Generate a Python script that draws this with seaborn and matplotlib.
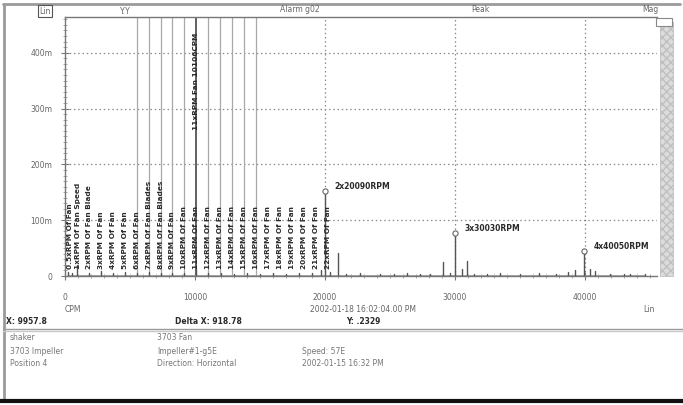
import numpy as np
import pandas as pd
import matplotlib
matplotlib.use("Agg")
import matplotlib.pyplot as plt
from matplotlib.patches import Rectangle
from matplotlib.lines import Line2D
from matplotlib.ticker import MultipleLocator, FixedLocator, FixedFormatter
import seaborn as sns

sns.set_style("white")
plt.rcParams["font.family"] = ["DejaVu Sans"]

# ---- data -------------------------------------------------------------
# spectral lines: frequency (CPM) and amplitude (milli-units)
line_cpm = [230, 560, 918.78, 1838, 2756, 3675, 4594, 5513, 6431, 7350, 8269,
            9188, 10106, 11025, 12000, 13000, 14000, 15000, 16000, 17000,
            18000, 19000, 19700, 20000, 20400, 21000, 21600, 22700, 24200,
            25300, 26300, 27300, 28100, 29077, 29600, 30000, 30540, 30923,
            31500, 32500, 33460, 35000, 36500, 37800, 38700, 39200, 39923,
            40400, 40800, 41900, 43000, 43500, 44600]
line_amp = [8, 6, 20, 6, 9, 5, 7, 6, 8, 5, 6,
            5, 12, 6, 5, 4, 5, 4, 5, 4,
            5, 6, 10, 152, 8, 41, 4, 5, 4,
            3, 6, 4, 3, 25, 5, 77, 13, 27,
            4, 3, 5, 4, 5, 3, 8, 10, 45,
            12, 9, 4, 3, 3, 3]

# labelled peaks
peak_cpm = [20000, 30000, 39923]
peak_amp = [152, 77, 45]
peak_text = ["2x20090RPM", "3x30030RPM", "4x40050RPM"]

# harmonic cursor set
delta_x = 918.78
cursor_orders = [6, 7, 8, 9, 10, 11, 12, 13, 14, 15, 16]
active_order = 11
active_text = "11xRPM Fan 10106CPM"

# fault frequency markers
fault_cpm = [380, 1000, 1838, 2756, 3675, 4594, 5513, 6431, 7350,
             8269, 9188, 10106, 11025, 11944, 12863, 13781, 14700, 15619,
             16538, 17457, 18376, 19295, 20213]
fault_text = ["0.5xRPM Of Fan", "1xRPM Of Fan Speed",
              "2xRPM Of Fan Blade", "3xRPM Of Fan", "4xRPM Of Fan",
              "5xRPM Of Fan", "6xRPM Of Fan", "7xRPM Of Fan Blades",
              "8xRPM Of Fan Blades", "9xRPM Of Fan", "10xRPM Of Fan",
              "11xRPM Of Fan", "12xRPM Of Fan", "13xRPM Of Fan",
              "14xRPM Of Fan", "15xRPM Of Fan", "16xRPM Of Fan",
              "17xRPM Of Fan", "18xRPM Of Fan", "19xRPM Of Fan",
              "20xRPM Of Fan", "21xRPM Of Fan", "22xRPM Of Fan"]

y_ticks = [0, 100, 200, 300, 400]
y_tick_labels = ["0", "100m", "200m", "300m", "400m"]
x_ticks = [0, 10000, 20000, 30000, 40000]
x_tick_labels = ["0", "10000", "20000", "30000", "40000"]

# ---- figure -----------------------------------------------------------
W, H = 683, 405
fig = plt.figure(figsize=(W / 100, H / 100), dpi=100)
fig.patch.set_facecolor("white")


def fx(px):
    return px / W


def fy(py):
    return 1 - py / H


ax = fig.add_axes([fx(65), fy(276), fx(592), (276 - 17) / H])
ax.set_xlim(0, 45540)
ax.set_ylim(0, 464)

grid_c = "#8a8a8a"
dark = "#2a2a2a"
mid = "#666666"

# dotted grid
for v in y_ticks[1:]:
    ax.axhline(v, color=grid_c, lw=0.9, ls=(0, (1.2, 2.2)), zorder=1)
for v in x_ticks[2:]:
    ax.axvline(v, color=grid_c, lw=0.9, ls=(0, (1.2, 2.2)), zorder=1)

# harmonic cursors
for n in cursor_orders:
    ax.axvline(n * delta_x, color="#a8a8a8" if n != active_order else "#606060",
               lw=0.9 if n != active_order else 1.4, zorder=2)

# spectrum as stems (each line its own unit)
rows = []
for i, (f, a) in enumerate(zip(line_cpm, line_amp)):
    rows.append({"cpm": f, "amp": 0.0, "line": i})
    rows.append({"cpm": f, "amp": a, "line": i})
spec = pd.DataFrame(rows)
sns.lineplot(data=spec, x="cpm", y="amp", units="line", estimator=None,
             color="#555555", lw=1.0, ax=ax, zorder=3, legend=False)
ax.plot(line_cpm, [2.5] * len(line_cpm), color="#9a9a9a", lw=0.6, zorder=2)

# peak markers and labels
ax.scatter(peak_cpm, peak_amp, s=14, facecolors="white", edgecolors="#666666",
           linewidths=0.8, zorder=5)
for f, a, t in zip(peak_cpm, peak_amp, peak_text):
    ax.annotate(t, (f, a), xytext=(7, 3), textcoords="offset points",
                fontsize=5.5, fontweight="bold", color=dark, va="center",
                ha="left")

# fault frequency labels
for f, t in zip(fault_cpm, fault_text):
    ax.text(f, 13, t, rotation=90, ha="center", va="bottom", fontsize=5.3,
            fontweight="bold", color=dark, zorder=4)
ax.text(active_order * delta_x, 262, active_text, rotation=90, ha="center",
        va="bottom", fontsize=5.3, fontweight="bold", color=dark, zorder=4)

# axes styling
ax.spines["right"].set_visible(False)
for s in ["left", "bottom", "top"]:
    ax.spines[s].set_color("#777777")
    ax.spines[s].set_linewidth(1.0)
ax.yaxis.set_major_locator(FixedLocator(y_ticks))
ax.yaxis.set_major_formatter(FixedFormatter(y_tick_labels))
ax.yaxis.set_minor_locator(MultipleLocator(10))
ax.xaxis.set_major_locator(FixedLocator(x_ticks))
ax.xaxis.set_major_formatter(FixedFormatter(x_tick_labels))
ax.xaxis.set_minor_locator(MultipleLocator(1000))
ax.tick_params(axis="y", which="major", direction="inout", length=6,
               color="#777777", labelsize=5.5, labelcolor=mid, pad=6, left=True)
ax.tick_params(axis="y", which="minor", direction="inout", length=3,
               color="#999999", left=True)
ax.tick_params(axis="x", which="major", direction="inout", length=6,
               color="#777777", labelsize=5.5, labelcolor=mid, pad=9,
               bottom=True)
ax.tick_params(axis="x", which="minor", direction="inout", length=3,
               color="#999999", bottom=True)
ax.set_xlabel("")
ax.set_ylabel("")

# hatched strip on the right
strip = Rectangle((fx(660), fy(276)), fx(13), (276 - 22) / H,
                  transform=fig.transFigure, facecolor="#dcdcdc",
                  edgecolor="#c0c0c0", hatch="xxxx", lw=0.6)
fig.patches.append(strip)
fig.patches.append(Rectangle((fx(656), fy(26)), fx(16), 8 / H,
                             transform=fig.transFigure, facecolor="white",
                             edgecolor="#888888", lw=0.8))


# frame lines
def hline(py, x0, x1, c, lw):
    fig.lines.append(Line2D([fx(x0), fx(x1)], [fy(py), fy(py)],
                            transform=fig.transFigure, color=c, lw=lw))


def vline(px, y0, y1, c, lw):
    fig.lines.append(Line2D([fx(px), fx(px)], [fy(y0), fy(y1)],
                            transform=fig.transFigure, color=c, lw=lw))


hline(4, 3, 680, "#9a9a9a", 2.0)
vline(4, 4, 398, "#9a9a9a", 2.0)
hline(329, 3, 683, "#9a9a9a", 1.0)
hline(331, 3, 683, "#c8c8c8", 1.0)
hline(401, 0, 683, "#111111", 3.0)

# header
fig.text(fx(45), fy(11), "Lin", fontsize=5.5, color=mid, ha="center",
         va="center", bbox=dict(boxstyle="square,pad=0.2", fc="white",
                                ec="#555555", lw=0.8))
fig.text(fx(125), fy(11), "Y:Y", fontsize=5.5, color=mid, ha="center", va="center")
fig.text(fx(300), fy(10), "Alarm g02", fontsize=5.5, color=mid, ha="center", va="center")
fig.text(fx(480), fy(10), "Peak", fontsize=5.5, color=mid, ha="center", va="center")
fig.text(fx(650), fy(10), "Mag", fontsize=5.5, color=mid, ha="center", va="center")

# below-axis captions
fig.text(fx(65), fy(310), "CPM", fontsize=5.5, color=mid, ha="left", va="center")
fig.text(fx(310), fy(310), "2002-01-18 16:02:04.00 PM", fontsize=5.5,
         color=mid, ha="left", va="center")
fig.text(fx(643), fy(310), "Lin", fontsize=5.5, color=mid, ha="left", va="center")

fig.text(fx(6), fy(322), "X: 9957.8", fontsize=5.5, fontweight="bold",
         color=dark, ha="left", va="center")
fig.text(fx(175), fy(322), f"Delta X: {delta_x:.2f}", fontsize=5.5,
         fontweight="bold", color=dark, ha="left", va="center")
fig.text(fx(346), fy(322), "Y: .2329", fontsize=5.5, fontweight="bold",
         color=dark, ha="left", va="center")

info = [
    (10, 338, "shaker"), (157, 338, "3703 Fan"),
    (10, 351, "3703 Impeller"), (157, 351, "Impeller#1-g5E"),
    (302, 351, "Speed: 57E"),
    (10, 364, "Position 4"), (157, 364, "Direction: Horizontal"),
    (302, 364, "2002-01-15 16:32 PM"),
]
for px, py, t in info:
    fig.text(fx(px), fy(py), t, fontsize=5.5, color="#777777", ha="left",
             va="center")

fig.savefig("out.png", dpi=100)
